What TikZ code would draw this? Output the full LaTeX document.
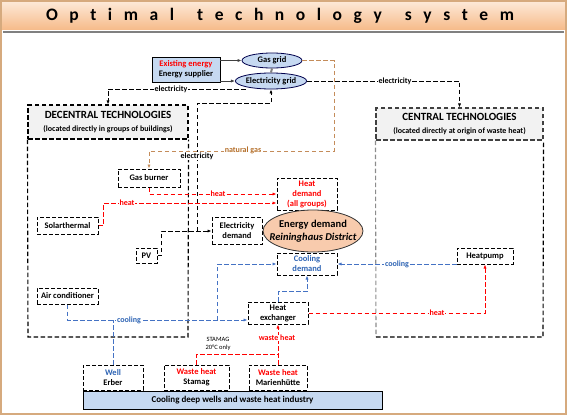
\documentclass[tikz,border=0pt]{standalone}
\usepackage{fontspec}
\setmainfont{Carlito}
\usetikzlibrary{arrows.meta,shapes.geometric,calc}
\definecolor{frametan}{RGB}{214,170,126}
\definecolor{lblue}{RGB}{198,217,241}
\definecolor{peach}{RGB}{248,203,173}
\definecolor{hdrgray}{RGB}{242,242,242}
\definecolor{blueln}{RGB}{68,114,196}
\definecolor{bluetx}{RGB}{46,100,180}
\definecolor{gasbrown}{RGB}{196,140,90}
\definecolor{gastx}{RGB}{180,110,40}
\definecolor{ttop}{RGB}{253,232,214}
\definecolor{tbot}{RGB}{246,188,140}
\begin{document}
\begin{tikzpicture}[x=1pt,y=-1pt,
  bx/.style={draw=black, dash pattern=on 4pt off 2pt, line width=1pt, inner sep=1pt, align=center,
    font=\fontsize{8.5}{10}\selectfont\bfseries},
  hdr/.style={draw=black, dash pattern=on 4.5pt off 2.5pt, line width=1.1pt, fill=hdrgray, align=center, inner sep=0pt},
  ell/.style={ellipse, draw=black!70!blue, line width=0.8pt, fill=lblue, inner sep=0pt,
    font=\fontsize{8.5}{10}\selectfont\bfseries},
  ln/.style={dash pattern=on 4.5pt off 2.5pt, line width=1pt},
  el/.style={ln, draw=black},
  ht/.style={ln, draw=red},
  cl/.style={ln, draw=blueln},
  gs/.style={ln, draw=gasbrown},
  arr/.style={-{Latex[length=4pt,width=3.2pt]}},
  lbl/.style={fill=white, inner sep=0.6pt, font=\fontsize{8}{9}\selectfont\bfseries}
]
\useasboundingbox (0,0) rectangle (567,415);
% frame and title
\shade[top color=ttop, bottom color=tbot] (2,2) rectangle (565,29);
\draw[frametan, line width=2pt] (1,1) rectangle (566,414);
\node (title) at (280,15.5) {\fontsize{17.5}{19}\selectfont\bfseries\makebox[468pt][s]{O\hfill p\hfill t\hfill i\hfill m\hfill a\hfill l\hfill\hfill t\hfill e\hfill c\hfill h\hfill n\hfill o\hfill l\hfill o\hfill g\hfill y\hfill\hfill s\hfill y\hfill s\hfill t\hfill e\hfill m}};
\draw[gray, line width=2pt] (3,32) -- (564,32);

% supplier and grids
\node[draw=black, line width=0.8pt, fill=lblue, minimum width=68pt, minimum height=25pt, inner sep=0pt, align=center,
  font=\fontsize{8.5}{10}\selectfont\bfseries] (exist) at (186,69.5) {\textcolor{red}{Existing energy}\\Energy supplier};
\node[ell, minimum width=60pt, minimum height=15pt] (gasgrid) at (272,60.5) {Gas grid};
\node[ell, minimum width=62pt, minimum height=16pt] (elgrid) at (271,81) {Electricity grid};
\draw[gray, line width=2pt] (gasgrid.south) -- (elgrid.north);
\draw[black!75, line width=0.9pt, arr] (exist.east |- gasgrid.west) -- (gasgrid.west);
\draw[black!75, line width=0.9pt, arr] (exist.east |- elgrid.west) -- (elgrid.west);

% technology boxes
\node[hdr, minimum width=160pt, minimum height=34pt] (dec) at (108,122)
  {{\fontsize{11}{13}\selectfont\bfseries DECENTRAL TECHNOLOGIES}\\[1pt]{\fontsize{8}{10}\selectfont\bfseries (located directly in groups of buildings)}};
\draw[el, line width=1.1pt] (dec.south west) -- (28,337) -- (188,337) -- (dec.south east);
\node[hdr, draw=black!75, minimum width=167pt, minimum height=32pt] (cen) at (459.5,124)
  {{\fontsize{11}{13}\selectfont\bfseries CENTRAL TECHNOLOGIES}\\[1pt]{\fontsize{8}{10}\selectfont\bfseries (located directly at origin of waste heat)}};
\draw[el, line width=1.1pt, draw=black!45] (cen.south west) -- (376,337);
\draw[el, line width=1.1pt] (376,337) -- (543,337) -- (cen.south east);

% demand and technologies
\node[bx, minimum width=62pt, minimum height=18pt] (gasburner) at (149,178) {Gas burner};
\node[bx, minimum width=61pt, minimum height=17pt] (solar) at (67.5,225.5) {Solarthermal};
\node[bx, minimum width=61pt, minimum height=16pt] (aircon) at (67.5,296) {Air conditioner};
\node[bx, minimum width=21pt, minimum height=15pt] (pv) at (146.5,255.5) {PV};
\node[bx, minimum width=60pt, minimum height=32pt, text=red] (heatdem) at (307,194) {Heat\\demand\\(all groups)};
\node[bx, minimum width=50pt, minimum height=27pt] (eldem) at (237,231) {Electricity\\demand};
\node[ellipse, draw=black!80, line width=0.8pt, fill=peach, minimum width=100pt, minimum height=42pt, inner sep=0pt,
  align=center, font=\fontsize{10.5}{12.5}\selectfont\bfseries] (energy) at (313,231)
  {\makebox[0pt]{Energy demand}\\\makebox[0pt]{\itshape Reininghaus District}};
\node[bx, minimum width=60pt, minimum height=22pt, text=bluetx] (cooldem) at (307,264) {Cooling\\demand};
\node[bx, minimum width=56pt, minimum height=16pt] (heatpump) at (485,256) {Heatpump};
\node[bx, minimum width=60pt, minimum height=22pt] (hx) at (278,313) {Heat\\exchanger};

% sources
\node[bx, minimum width=60pt, minimum height=25pt] (well) at (113,377.5) {\textcolor{bluetx}{Well}\\Erber};
\node[bx, minimum width=65pt, minimum height=25pt] (stamag) at (196.5,377.5) {\textcolor{red}{Waste heat}\\Stamag};
\node[bx, minimum width=58pt, minimum height=25pt] (marien) at (278,377.5) {\textcolor{red}{Waste heat}\\Marienhütte};
\node[draw=black, line width=0.9pt, fill=lblue, minimum width=299pt, minimum height=18pt, inner sep=0pt,
  font=\fontsize{9}{10}\selectfont\bfseries] (bar) at (232.5,400) {Cooling deep wells and waste heat industry};

% gas
\coordinate (g1) at (334,151);
\draw[gs, arr] (gasgrid.east) -| (g1) -- (gasburner.north |- g1) -- (gasburner.north);
\node[lbl, text=gastx] (nglbl) at (243,150.5) {natural gas};

% electricity
\coordinate (e1) at (108,89);
\draw[el, arr] (elgrid.south west |- e1) -- (e1) -- (dec.north);
\node[lbl] (ellbl1) at (171,89) {electricity};
\draw[el, arr] (elgrid.east) -| (cen.north);
\node[lbl] (ellbl2) at (395,81) {electricity};
\coordinate (p1) at (161,231);
\coordinate (e2) at (197,231);
\draw[el, arr] (pv.east) -| (p1) -- (eldem.west);
\draw[el, arr] (e2) |- ($(elgrid.south)+(0,14)$) -- (elgrid.south);
\node[lbl] (ellbl3) at (197,156) {electricity};

% heat
\draw[ht, arr] (gasburner.south) |- (heatdem.west);
\node[lbl, text=red] (hlbl1) at (218,194) {heat};
\draw[ht, arr] (solar.east) -- ++(5,0) |- ($(heatdem.west)+(0,9)$);
\node[lbl, text=red] (hlbl2) at (127,203) {heat};
\draw[ht, arr] (hx.east) -| (heatpump.south);
\node[lbl, text=red] (hlbl3) at (437,313) {heat};
\draw[ht, arr] (marien.north) -- (hx.south);
\node[lbl, text=red] (wlbl) at (277,338) {waste heat};
\draw[ht] (stamag.north) |- (278,354);
\node[inner sep=0pt, align=center, font=\fontsize{6.5}{8}\selectfont] (stlbl) at (218,344) {STAMAG\\20°C only};

% cooling
\draw[cl, arr] (heatpump.west |- cooldem.east) -- (cooldem.east);
\node[lbl, text=bluetx] (clbl1) at (397,264) {cooling};
\coordinate (c1) at (217,320);
\draw[cl, arr] (aircon.south) |- ($(hx.west)+(0,7)$);
\draw[cl, arr] (c1) |- (cooldem.west);
\draw[cl] (well.north) -- (well.north |- c1);
\node[lbl, text=bluetx] (clbl2) at (129,320) {cooling};
\draw[cl, arr] (hx.north) -- ++(0,-10) -| (cooldem.south);
\end{tikzpicture}
\end{document}
